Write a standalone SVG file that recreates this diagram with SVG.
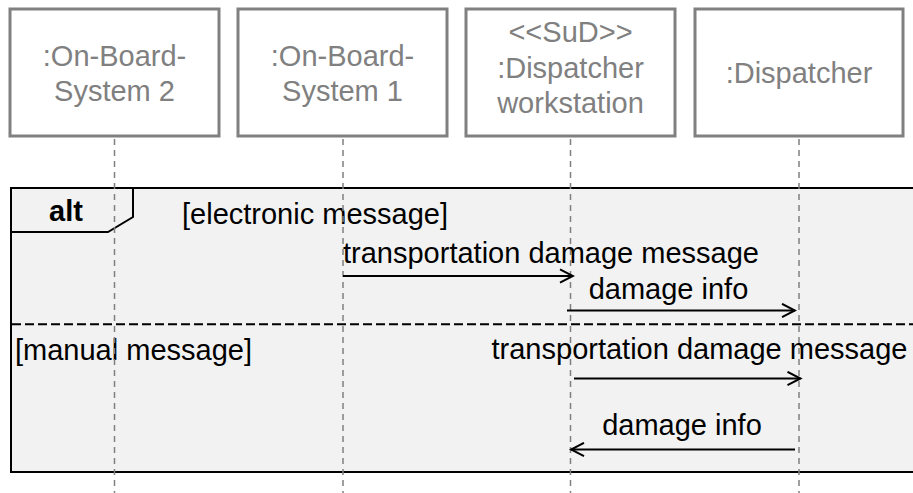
<svg xmlns="http://www.w3.org/2000/svg" width="913" height="493" viewBox="0 0 913 493">
<defs>
<style>
.box{fill:#fff;stroke:#808080;stroke-width:3}
.nt{font-family:"Liberation Sans",Arial,sans-serif;font-size:29px;fill:#808080;text-anchor:middle}
.t{font-family:"Liberation Sans",Arial,sans-serif;font-size:29px;fill:#000}
.life{stroke:#808080;stroke-width:1.5;stroke-dasharray:6 5;fill:none}
.msg{stroke:#000;stroke-width:2;fill:none}
</style>
<marker id="arr" markerWidth="16" markerHeight="16" refX="14" refY="8" orient="auto" markerUnits="userSpaceOnUse">
<path d="M1,1.3 L14,8 L1,14.7" fill="none" stroke="#000" stroke-width="2"/>
</marker>
</defs>
<rect x="0" y="0" width="913" height="493" fill="#fff"/>
<g id="frame">
<rect x="11" y="188" width="912" height="284" fill="#f2f2f2" stroke="#000" stroke-width="2"/>
<path d="M11,232 L108,232 L133,217 L133,188" fill="none" stroke="#000" stroke-width="2"/>
<text x="49" y="221" class="t" font-weight="bold">alt</text>
<text x="182" y="224" class="t">[electronic message]</text>
<line x1="12" y1="324.3" x2="913" y2="324.3" stroke="#000" stroke-width="2" stroke-dasharray="9 4"/>
<text x="15" y="359.5" class="t">[manual message]</text>
</g>
<g id="lifelines">
<line x1="114.5" y1="139" x2="114.5" y2="493" class="life"/>
<line x1="343" y1="139" x2="343" y2="493" class="life"/>
<line x1="570.5" y1="139" x2="570.5" y2="493" class="life"/>
<line x1="799" y1="139" x2="799" y2="493" class="life"/>
</g>
<g id="node-obs2">
<rect x="10" y="9" width="209" height="127" class="box"/>
<text x="114.5" y="66" class="nt">:On-Board-</text>
<text x="114.5" y="101" class="nt">System 2</text>
</g>
<g id="node-obs1">
<rect x="238" y="9" width="209" height="127" class="box"/>
<text x="342.5" y="66" class="nt">:On-Board-</text>
<text x="342.5" y="101" class="nt">System 1</text>
</g>
<g id="node-dws">
<rect x="466" y="9" width="209" height="127" class="box"/>
<text x="570.5" y="42" class="nt">&lt;&lt;SuD&gt;&gt;</text>
<text x="570.5" y="77.5" class="nt">:Dispatcher</text>
<text x="570.5" y="113" class="nt">workstation</text>
</g>
<g id="node-disp">
<rect x="695" y="9" width="208" height="127" class="box"/>
<text x="799" y="83" class="nt">:Dispatcher</text>
</g>
<g id="connectors">
<line x1="343" y1="276" x2="573" y2="276" class="msg" marker-end="url(#arr)"/>
<text x="343" y="262.5" class="t">transportation damage message</text>
<line x1="567" y1="310.5" x2="795" y2="310.5" class="msg" marker-end="url(#arr)"/>
<text x="668.5" y="298.5" class="t" text-anchor="middle">damage info</text>
<line x1="574" y1="378.5" x2="800.5" y2="378.5" class="msg" marker-end="url(#arr)"/>
<text x="699.5" y="358.5" class="t" text-anchor="middle">transportation damage message</text>
<line x1="795" y1="449.5" x2="571" y2="449.5" class="msg" marker-end="url(#arr)"/>
<text x="682" y="435" class="t" text-anchor="middle">damage info</text>
</g>
</svg>
